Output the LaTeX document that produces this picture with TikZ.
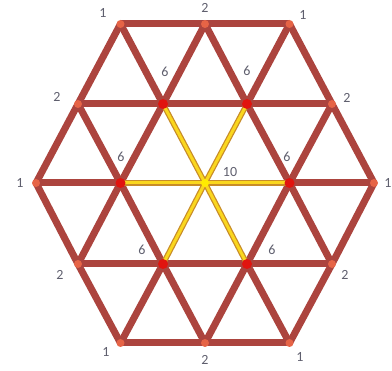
\documentclass[tikz,border=0pt]{standalone}
\usepackage{fontspec}
\setmainfont{Carlito}
\definecolor{edgered}{RGB}{172,68,62}
\definecolor{edgeyel}{RGB}{250,215,30}
\definecolor{edgeyelout}{RGB}{200,140,40}
\definecolor{dotout}{RGB}{230,100,70}
\definecolor{dotin}{RGB}{225,20,15}
\definecolor{dotc}{RGB}{255,235,0}
\definecolor{lbl}{RGB}{95,95,110}
\begin{document}
\begin{tikzpicture}[x=1pt,y=-1pt,
  redge/.style={draw=edgered,line width=7pt},
  yedgeo/.style={draw=edgeyelout,line width=5.5pt},
  yedgei/.style={draw=edgeyel,line width=3pt},
  odot/.style={circle,fill=dotout,inner sep=0pt,minimum size=8pt},
  idot/.style={circle,fill=dotin,inner sep=0pt,minimum size=10pt},
  cdot/.style={circle,fill=dotc,inner sep=0pt,minimum size=8pt},
  lab/.style={text=lbl,font=\fontsize{14}{15}\selectfont,inner sep=0pt}]
\useasboundingbox (0,0) rectangle (392,371);
\fill[white] (0,0) rectangle (392,371);
% vertices
\coordinate (t1) at (120.5,24);
\coordinate (t2) at (205,24);
\coordinate (t3) at (289.5,24);
\coordinate (a1) at (78,104);
\coordinate (a2) at (163,104);
\coordinate (a3) at (247,104);
\coordinate (a4) at (332,104);
\coordinate (b1) at (36,183);
\coordinate (b2) at (120.5,183);
\coordinate (b3) at (205,183);
\coordinate (b4) at (289.5,183);
\coordinate (b5) at (374,183);
\coordinate (c1) at (78,264);
\coordinate (c2) at (163,264);
\coordinate (c3) at (247,264);
\coordinate (c4) at (332,264);
\coordinate (d1) at (120.5,343);
\coordinate (d2) at (205,343);
\coordinate (d3) at (289.5,343);
% red edges
\foreach \u/\v in {t1/t2,t2/t3,a1/a2,a2/a3,a3/a4,b1/b2,b4/b5,c1/c2,c2/c3,c3/c4,d1/d2,d2/d3,
  t1/a1,t1/a2,t2/a2,t2/a3,t3/a3,t3/a4,
  a1/b1,a1/b2,a2/b2,a3/b4,a4/b4,a4/b5,
  c1/b1,c1/b2,c2/b2,c3/b4,c4/b4,c4/b5,
  d1/c1,d1/c2,d2/c2,d2/c3,d3/c3,d3/c4}
  \draw[redge] (\u) -- (\v);
% yellow edges
\foreach \v in {a2,a3,b2,b4,c2,c3}
  \draw[yedgeo] (b3) -- (\v);
\foreach \v in {a2,a3,b2,b4,c2,c3}
  \draw[yedgei] (b3) -- (\v);
% dots
\foreach \v in {t1,t2,t3,a1,a4,b1,b5,c1,c4,d1,d2,d3}
  \node[odot] (n\v) at (\v) {};
\foreach \v in {a2,a3,b2,b4,c2,c3}
  \node[idot] (n\v) at (\v) {};
\node[cdot] (nb3) at (b3) {};
% labels
\node[lab] (lt1) at (103,13) {1};
\node[lab] (lt2) at (205,8) {2};
\node[lab] (lt3) at (303,15) {1};
\node[lab] (la1) at (57,97) {2};
\node[lab] (la2) at (165,72) {6};
\node[lab] (la3) at (247,71) {6};
\node[lab] (la4) at (347,98) {2};
\node[lab] (lb1) at (20,183) {1};
\node[lab] (lb2) at (121,157) {6};
\node[lab] (lb3) at (230,172) {10};
\node[lab] (lb4) at (287,157) {6};
\node[lab] (lb5) at (388,183) {1};
\node[lab] (lc1) at (60,275) {2};
\node[lab] (lc2) at (142,250) {6};
\node[lab] (lc3) at (272,250) {6};
\node[lab] (lc4) at (345,275) {2};
\node[lab] (ld1) at (106,352) {1};
\node[lab] (ld2) at (205,360) {2};
\node[lab] (ld3) at (300,357) {1};
\end{tikzpicture}
\end{document}
